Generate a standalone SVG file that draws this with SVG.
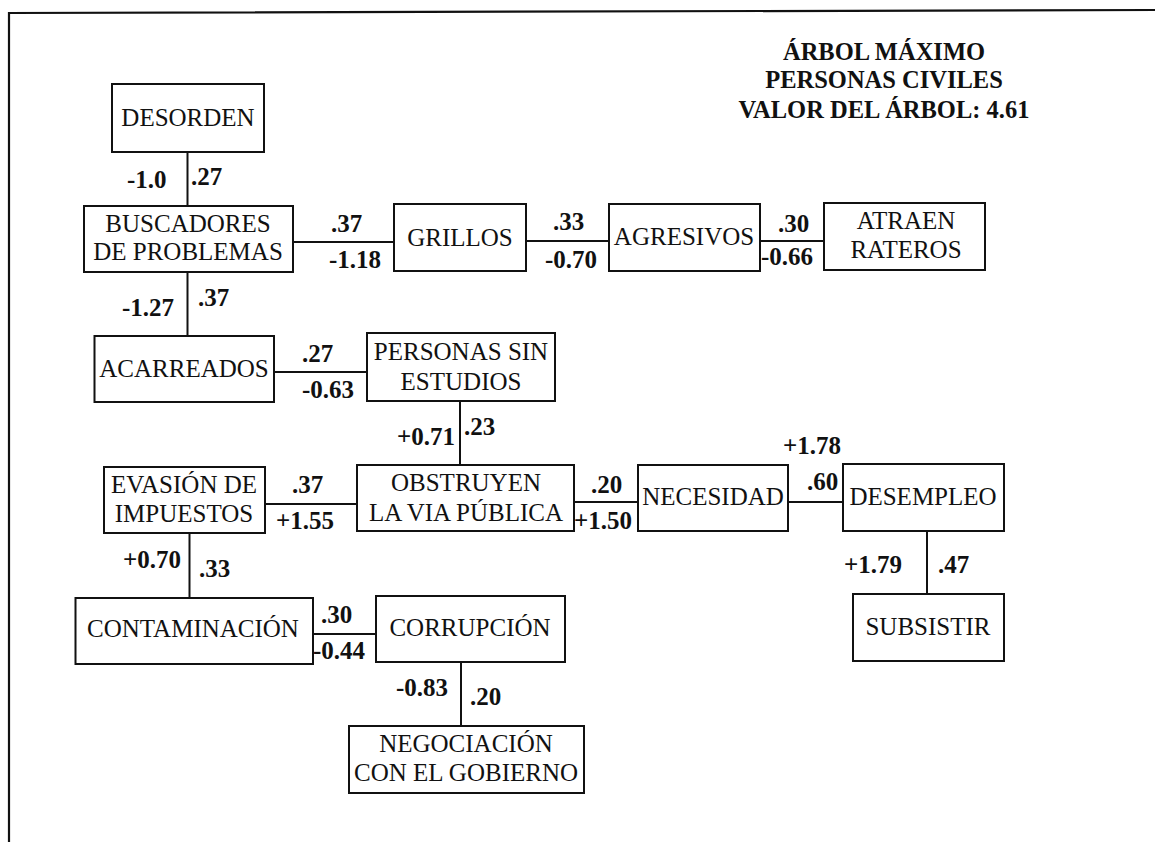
<svg xmlns="http://www.w3.org/2000/svg" width="1155" height="842" viewBox="0 0 1155 842" font-family="Liberation Serif, DejaVu Serif, serif">
<style>
.box{fill:#fff;stroke:#111;stroke-width:2}
text{font-family:'Liberation Serif','DejaVu Serif',serif;fill:#111}
.lbl{font-size:25px;text-anchor:middle}
.num{font-size:25px;font-weight:bold}
.title{font-size:24.5px;font-weight:bold;text-anchor:middle}
.edge{stroke:#111;stroke-width:2;fill:none}
.frame{stroke:#111;stroke-width:2.2;fill:none}
</style>
<rect width="1155" height="842" fill="#fff"/>
<path class="frame" d="M9,842 L9,13 L1155,10"/>
<g id="title">
<text class="title" x="884" y="60">ÁRBOL MÁXIMO</text>
<text class="title" x="884" y="88">PERSONAS CIVILES</text>
<text class="title" x="884" y="118">VALOR DEL ÁRBOL: 4.61</text>
</g>
<g id="connectors">
<line class="edge" x1="187.5" y1="152" x2="187.5" y2="206"/>
<line class="edge" x1="293" y1="242" x2="394" y2="242"/>
<line class="edge" x1="526" y1="241" x2="609" y2="241"/>
<line class="edge" x1="760" y1="241" x2="824" y2="241"/>
<line class="edge" x1="187.5" y1="272" x2="187.5" y2="336"/>
<line class="edge" x1="274" y1="372" x2="367" y2="372"/>
<line class="edge" x1="460" y1="401" x2="460" y2="465"/>
<line class="edge" x1="265" y1="504" x2="357" y2="504"/>
<line class="edge" x1="574" y1="502" x2="638" y2="502"/>
<line class="edge" x1="788" y1="502" x2="843" y2="502"/>
<line class="edge" x1="927" y1="531" x2="927" y2="594"/>
<line class="edge" x1="189.5" y1="533" x2="189.5" y2="598"/>
<line class="edge" x1="313" y1="634" x2="376" y2="634"/>
<line class="edge" x1="461" y1="662" x2="461" y2="726"/>
<g id="edge-labels">
<text class="num" x="127" y="188">-1.0</text>
<text class="num" x="191" y="185">.27</text>
<text class="num" x="331" y="232">.37</text>
<text class="num" x="329" y="268">-1.18</text>
<text class="num" x="553" y="230">.33</text>
<text class="num" x="545" y="268">-0.70</text>
<text class="num" x="778" y="232">.30</text>
<text class="num" x="761" y="265">-0.66</text>
<text class="num" x="122" y="316">-1.27</text>
<text class="num" x="198" y="306">.37</text>
<text class="num" x="302" y="362">.27</text>
<text class="num" x="302" y="398">-0.63</text>
<text class="num" x="397" y="445">+0.71</text>
<text class="num" x="464" y="435">.23</text>
<text class="num" x="292" y="493">.37</text>
<text class="num" x="276" y="529">+1.55</text>
<text class="num" x="591" y="493">.20</text>
<text class="num" x="574" y="529">+1.50</text>
<text class="num" x="783" y="454">+1.78</text>
<text class="num" x="807" y="490">.60</text>
<text class="num" x="844" y="573">+1.79</text>
<text class="num" x="938" y="573">.47</text>
<text class="num" x="123" y="568">+0.70</text>
<text class="num" x="199" y="577">.33</text>
<text class="num" x="321" y="623">.30</text>
<text class="num" x="313" y="659">-0.44</text>
<text class="num" x="396" y="696">-0.83</text>
<text class="num" x="470" y="705">.20</text>
</g>
</g>
<g id="desorden"><rect class="box" x="112" y="84" width="152" height="68"/><text class="lbl" x="188" y="126">DESORDEN</text></g>
<g id="buscadores"><rect class="box" x="84" y="206" width="209" height="66"/><text class="lbl" x="188" y="232">BUSCADORES</text><text class="lbl" x="188" y="260">DE PROBLEMAS</text></g>
<g id="grillos"><rect class="box" x="394" y="204" width="132" height="67"/><text class="lbl" x="460" y="246">GRILLOS</text></g>
<g id="agresivos"><rect class="box" x="609" y="204" width="151" height="67"/><text class="lbl" x="684" y="245">AGRESIVOS</text></g>
<g id="atraen"><rect class="box" x="824" y="203" width="161" height="67"/><text class="lbl" x="906" y="229">ATRAEN</text><text class="lbl" x="906" y="258">RATEROS</text></g>
<g id="acarreados"><rect class="box" x="94.5" y="336" width="179.5" height="66"/><text class="lbl" x="184" y="377">ACARREADOS</text></g>
<g id="personas"><rect class="box" x="367" y="333" width="188" height="68"/><text class="lbl" x="461" y="360">PERSONAS SIN</text><text class="lbl" x="461" y="390">ESTUDIOS</text></g>
<g id="evasion"><rect class="box" x="104" y="467" width="161" height="66"/><text class="lbl" x="184" y="493">EVASIÓN DE</text><text class="lbl" x="184" y="522">IMPUESTOS</text></g>
<g id="obstruyen"><rect class="box" x="357" y="465" width="217" height="66"/><text class="lbl" x="466" y="491">OBSTRUYEN</text><text class="lbl" x="466" y="521">LA VIA PÚBLICA</text></g>
<g id="necesidad"><rect class="box" x="638" y="465" width="150" height="66"/><text class="lbl" x="713" y="505">NECESIDAD</text></g>
<g id="desempleo"><rect class="box" x="843" y="464" width="161" height="67"/><text class="lbl" x="923" y="505">DESEMPLEO</text></g>
<g id="subsistir"><rect class="box" x="853" y="594" width="151" height="67"/><text class="lbl" x="928" y="635">SUBSISTIR</text></g>
<g id="contaminacion"><rect class="box" x="75.5" y="598" width="237.5" height="66"/><text class="lbl" x="193" y="637">CONTAMINACIÓN</text></g>
<g id="corrupcion"><rect class="box" x="376" y="596" width="189" height="66"/><text class="lbl" x="470" y="636">CORRUPCIÓN</text></g>
<g id="negociacion"><rect class="box" x="349" y="726" width="235" height="67"/><text class="lbl" x="466" y="752">NEGOCIACIÓN</text><text class="lbl" x="466" y="781">CON EL GOBIERNO</text></g>
</svg>
